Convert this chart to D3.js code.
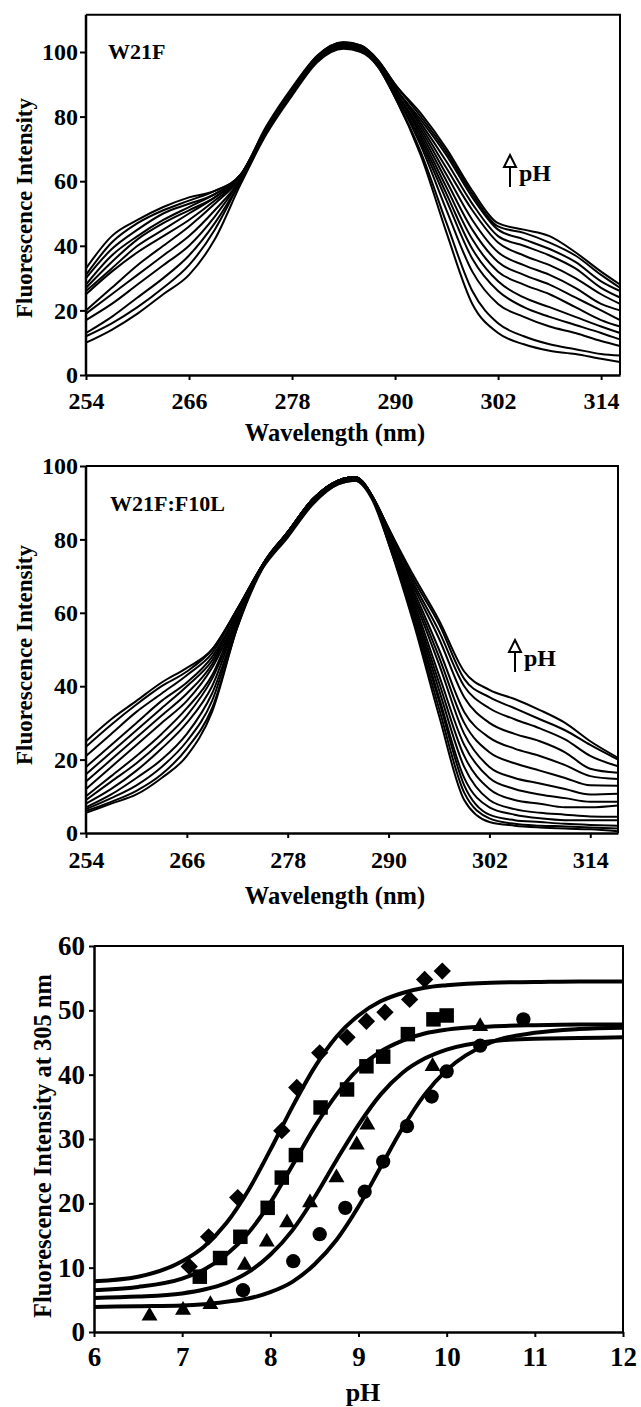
<!DOCTYPE html>
<html>
<head>
<meta charset="utf-8">
<script src="https://cdn.jsdelivr.net/npm/d3@7"></script>
<style>
  body { margin: 0; background: #fff; }
  svg text { font-family: "Liberation Serif", "Times New Roman", serif; font-weight: bold; fill: #000; }
</style>
</head>
<body>
<svg id="fig" width="641" height="1407"></svg>
<script>
// ---- panel A: W21F emission spectra (one row per pH) ----
const w21fWavelengths = [254, 257, 260, 263, 266, 269, 272, 275, 278, 281, 284, 286, 288, 290, 293, 296, 299, 302, 305, 308, 311, 314, 316.2];
const w21fSpectra = [
  [33, 43, 48, 52, 55, 57, 62, 77, 89, 99, 103, 102, 97.5, 90, 81, 70, 57, 47, 45, 43, 38, 32, 28],
  [31, 41, 47, 51, 54, 57, 62, 76.5, 88.5, 99, 103, 102, 97.5, 90, 80, 69, 56, 46, 44, 41, 37, 31, 27],
  [30, 39, 45, 50, 53, 56, 62, 76.5, 88.5, 98.5, 102.5, 101.5, 97, 89, 79, 68, 55, 45, 42, 39, 35, 29, 26],
  [28, 37, 43, 48, 52, 56, 61.5, 76, 88, 98.5, 102.5, 101.5, 97, 89, 78, 66, 53, 43, 40, 37, 33, 27, 24],
  [27, 35, 42, 47, 51, 55, 61.5, 76, 88, 98.5, 102.5, 101.5, 97, 89, 77, 64, 51, 41, 37, 34, 30, 25, 22],
  [26, 33, 40, 45, 50, 55, 61.5, 76, 88, 98, 102, 101, 96.5, 88, 76, 62, 48, 38, 34, 31, 27, 22, 20],
  [25, 32, 38, 43, 48, 54, 61, 75.5, 87.5, 98, 102, 101, 96.5, 88, 75, 60, 45, 35, 31, 28, 24, 20, 17],
  [20, 27, 34, 40, 46, 53, 61, 75.5, 87.5, 98, 102, 101, 96.5, 88, 74, 58, 42, 32, 28, 25, 21, 17, 15],
  [19, 25, 31, 37, 43, 51, 60.5, 75.5, 87.5, 98, 102, 101, 96, 87, 73, 56, 39, 29, 24, 21, 18, 15, 13],
  [17, 22, 28, 34, 40, 49, 60.5, 75, 87, 97.5, 101.5, 100.5, 96, 87, 72, 54, 36, 26, 21, 18, 15.5, 13, 11],
  [13, 18, 24, 30, 37, 47, 60, 75, 87, 97.5, 101.5, 100.5, 96, 87, 71, 51, 32, 22, 18, 15, 13, 10.5, 9],
  [12, 16, 21, 27, 34, 45, 60, 75, 87, 97.5, 101.5, 100.5, 95.5, 86, 69, 47, 26, 16, 12, 9.5, 8, 6.5, 6],
  [10, 14, 19, 25, 31, 42, 59, 74.5, 86.5, 97, 101, 100, 95.5, 86, 68, 44, 22, 13, 9.5, 7.5, 6.5, 5, 4]
];

// ---- panel B: W21F:F10L emission spectra ----
const f10lWavelengths = [254, 257, 260, 263, 266, 269, 272, 275, 278, 281, 284, 286, 288, 290, 293, 296, 299, 302, 305, 308, 311, 314, 317.3];
const f10lSpectra = [
  [25, 31, 36, 41, 45, 50, 61, 73, 82, 91, 96, 97, 92, 83, 70, 58, 44, 39, 36.5, 33.5, 30, 25, 20.5],
  [23.5, 29.5, 35, 40, 44, 50, 61, 73, 82, 91, 96, 97, 92, 83, 69, 57, 42, 37, 34, 31, 28, 24, 20],
  [21, 27, 33, 38, 43, 49, 61, 73, 82, 91, 96, 97, 92, 83, 68, 55, 40, 34, 31, 28.5, 25.5, 21, 18.2],
  [18, 24, 30, 36, 41, 48, 60, 73, 82, 91, 96, 97, 92, 82, 67, 53, 37, 30, 27, 25, 22, 17.5, 16.4],
  [16, 22, 28, 34, 40, 47, 60, 72.5, 81.5, 90.5, 95.5, 96.5, 91.5, 82, 66, 50, 33, 26, 23, 21, 18.5, 15.5, 14.7],
  [14, 20, 26, 32, 38, 46, 60, 73, 82, 91, 96, 97, 92, 82, 65, 48, 30, 22, 19, 17, 15, 13, 12.9],
  [12, 18, 24, 30, 36, 45, 59, 73, 82, 91, 96, 97, 92, 81, 64, 46, 27, 18, 15, 13.5, 12, 10.5, 10.7],
  [10, 15.5, 21, 27, 34, 43, 59, 72, 80.5, 89.5, 95, 96, 91.5, 81, 63, 43, 24, 15, 12, 10.5, 9.5, 8.5, 8.5],
  [9, 14, 19, 25, 32, 42, 58, 73, 82, 91, 96, 97, 92, 81, 62, 41, 21, 12, 9, 8, 7, 7, 7.5],
  [8, 12, 17, 23, 30, 40, 58, 73, 82, 91, 96, 97, 92, 80, 61, 39, 18, 9, 6.5, 5.5, 5, 4.5, 4.4],
  [7, 10.5, 15, 20, 27, 38, 57, 72.5, 81.5, 90.5, 95.5, 96.5, 91.5, 80, 60, 37, 15, 7, 5, 4, 3.5, 3.5, 3.5],
  [6.5, 9.5, 13, 18, 25, 36, 57, 73, 82, 91, 96, 97, 92, 80, 59, 36, 13, 5, 3.5, 3, 2.5, 2.2, 2],
  [6, 8.5, 11.5, 16, 23, 34, 56, 72, 81, 90, 95, 96, 91, 79, 58, 34, 11, 4, 2.5, 2, 1.8, 1.5, 1.2],
  [5.5, 8, 10.5, 15, 21, 33, 56, 73, 82, 91, 96, 97, 92, 79, 57, 32, 9, 3, 2, 1.5, 1.2, 1, 0.5]
];

const wavelengthTicks = [254, 266, 278, 290, 302, 314];
const spectraTicks = [0, 20, 40, 60, 80, 100];

// ---- panel C: intensity at 305 nm vs pH ----
const diamondPoints = [[7.08, 10.2], [7.3, 14.8], [7.63, 20.9], [8.13, 31.3], [8.3, 38.0], [8.56, 43.4], [8.87, 45.8], [9.09, 48.3], [9.3, 49.7], [9.58, 51.7], [9.75, 54.8], [9.95, 56.1]];
const squarePoints = [[7.2, 8.6], [7.43, 11.5], [7.66, 14.8], [7.97, 19.3], [8.13, 24.0], [8.29, 27.5], [8.57, 34.9], [8.87, 37.7], [9.09, 41.3], [9.28, 42.8], [9.56, 46.3], [9.85, 48.6], [10.0, 49.2]];
const trianglePoints = [[6.63, 2.5], [7.01, 3.4], [7.32, 4.3], [7.71, 10.4], [7.96, 14.0], [8.19, 17.0], [8.45, 20.1], [8.75, 24.0], [8.98, 29.1], [9.1, 32.2], [9.84, 41.3], [10.38, 47.5]];
const circlePoints = [[7.69, 6.5], [8.26, 11.0], [8.56, 15.2], [8.85, 19.3], [9.07, 21.8], [9.28, 26.5], [9.55, 32.0], [9.83, 36.6], [10.0, 40.5], [10.38, 44.5], [10.87, 48.6]];

const fitPH = [6, 6.5, 7, 7.25, 7.5, 7.75, 8, 8.25, 8.5, 8.75, 9, 9.25, 9.5, 9.75, 10, 10.5, 11, 11.5, 12];
const diamondFit = [7.9, 8.6, 11.0, 13.3, 16.9, 22.0, 28.3, 35.0, 41.1, 45.9, 49.2, 51.4, 52.7, 53.5, 53.9, 54.3, 54.4, 54.5, 54.5];
const squareFit = [6.5, 7.0, 8.3, 9.7, 12.0, 15.4, 20.1, 25.9, 31.8, 36.9, 40.9, 43.6, 45.3, 46.4, 47.0, 47.5, 47.7, 47.8, 47.8];
const triangleFit = [5.3, 5.5, 6.0, 6.6, 7.6, 9.3, 12.0, 15.8, 20.9, 26.7, 32.2, 36.9, 40.3, 42.5, 43.9, 45.2, 45.6, 45.7, 45.8];
const circleFit = [3.9, 4.0, 4.1, 4.3, 4.7, 5.2, 6.2, 7.8, 10.5, 14.3, 19.5, 25.6, 31.7, 36.9, 40.7, 45.0, 46.5, 47.1, 47.3];

const phTicks = [6, 7, 8, 9, 10, 11, 12];
const titrationTicks = [0, 10, 20, 30, 40, 50, 60];

const svg = d3.select('#fig');

// black, heavy axis lines and serif tick labels
function styleAxis(g, fontSize) {
  g.select('.domain').attr('stroke', '#000').attr('stroke-width', 2.5);
  g.selectAll('.tick line').attr('stroke', '#000').attr('stroke-width', 2);
  g.selectAll('.tick text').attr('font-size', fontSize);
}

function drawSpectra(cfg) {
  const x = d3.scaleLinear().domain(cfg.xDomain).range([cfg.left, cfg.right]);
  const y = d3.scaleLinear().domain([0, 100]).range([cfg.zeroY, cfg.hundredY]);
  const topY = y(cfg.yMax);
  const g = svg.append('g');

  // frame (top + right side)
  g.append('path')
    .attr('d', `M${cfg.left},${topY}H${cfg.right}V${cfg.zeroY}`)
    .attr('fill', 'none').attr('stroke', '#000').attr('stroke-width', 2);

  const line = d3.line()
    .x((d, i) => x(cfg.wavelengths[i]))
    .y(d => y(d))
    .curve(d3.curveMonotoneX);

  g.selectAll('.spectrum')
    .data(cfg.spectra)
    .join('path')
    .attr('class', 'spectrum')
    .attr('d', line)
    .attr('fill', 'none')
    .attr('stroke', '#000')
    .attr('stroke-width', 2);

  g.append('g')
    .attr('transform', `translate(0,${cfg.zeroY})`)
    .call(d3.axisBottom(x).tickValues(wavelengthTicks).tickSize(5).tickSizeOuter(0).tickPadding(cfg.xPad))
    .call(a => styleAxis(a, 24));

  const yAxis = g.append('g')
    .attr('transform', `translate(${cfg.left},0)`)
    .call(d3.axisLeft(y).tickValues(spectraTicks).tickSize(6).tickSizeOuter(0).tickPadding(2))
    .call(a => styleAxis(a, 24));
  yAxis.select('.domain').attr('d', `M0,${cfg.zeroY}V${topY}`);

  g.append('text')
    .attr('transform', `translate(${cfg.yTitleX},${cfg.yTitleY}) rotate(-90)`)
    .attr('text-anchor', 'middle')
    .attr('font-size', 23)
    .text('Fluorescence Intensity');

  g.append('text')
    .attr('x', 335).attr('y', cfg.xTitleY)
    .attr('text-anchor', 'middle')
    .attr('font-size', 24.5)
    .text('Wavelength (nm)');

  g.append('text')
    .attr('x', cfg.labelX).attr('y', cfg.labelY)
    .attr('font-size', 22)
    .text(cfg.label);

  // hollow arrow + "pH"
  const ax = cfg.arrowX, ay = cfg.arrowY;
  g.append('path')
    .attr('d', `M${ax},${ay}L${ax + 6},${ay + 12}H${ax - 6}Z`)
    .attr('fill', '#fff').attr('stroke', '#000').attr('stroke-width', 2);
  g.append('line')
    .attr('x1', ax).attr('x2', ax).attr('y1', ay + 12).attr('y2', ay + 32)
    .attr('stroke', '#000').attr('stroke-width', 2);
  g.append('text')
    .attr('x', ax + 9).attr('y', ay + 26)
    .attr('font-size', 24)
    .text('pH');
}

drawSpectra({
  wavelengths: w21fWavelengths, spectra: w21fSpectra,
  xDomain: [254, 316.2], left: 86, right: 620,
  zeroY: 375, hundredY: 52, yMax: 111.5, xPad: 12,
  yTitleX: 32, yTitleY: 208, xTitleY: 441,
  label: 'W21F', labelX: 108, labelY: 59,
  arrowX: 510, arrowY: 155
});

drawSpectra({
  wavelengths: f10lWavelengths, spectra: f10lSpectra,
  xDomain: [254, 317.3], left: 86, right: 618,
  zeroY: 833, hundredY: 466, yMax: 100, xPad: 13,
  yTitleX: 32, yTitleY: 655, xTitleY: 904,
  label: 'W21F:F10L', labelX: 110, labelY: 511,
  arrowX: 515, arrowY: 640
});

// ---- titration panel ----
(function drawTitration() {
  const left = 94, right = 623, bottom = 1332, top = 946;
  const x = d3.scaleLinear().domain([6, 12]).range([left, right]);
  const y = d3.scaleLinear().domain([0, 60]).range([bottom, top]);
  const g = svg.append('g');

  g.append('path')
    .attr('d', `M${left},${top}H${right}V${bottom}`)
    .attr('fill', 'none').attr('stroke', '#000').attr('stroke-width', 2);

  const fitLine = d3.line()
    .x((d, i) => x(fitPH[i]))
    .y(d => y(d))
    .curve(d3.curveMonotoneX);

  g.selectAll('.fit')
    .data([diamondFit, squareFit, triangleFit, circleFit])
    .join('path')
    .attr('class', 'fit')
    .attr('d', fitLine)
    .attr('fill', 'none')
    .attr('stroke', '#000')
    .attr('stroke-width', 4);

  const series = [
    {points: diamondPoints, type: d3.symbolSquare, size: 150, rotate: 45},
    {points: squarePoints, type: d3.symbolSquare, size: 210, rotate: 0},
    {points: trianglePoints, type: d3.symbolTriangle, size: 110, rotate: 0},
    {points: circlePoints, type: d3.symbolCircle, size: 160, rotate: 0}
  ];
  series.forEach(s => {
    g.append('g').selectAll('path')
      .data(s.points)
      .join('path')
      .attr('d', d3.symbol().type(s.type).size(s.size))
      .attr('transform', d => `translate(${x(d[0])},${y(d[1])}) rotate(${s.rotate})`)
      .attr('fill', '#000');
  });

  g.append('g')
    .attr('transform', `translate(0,${bottom})`)
    .call(d3.axisBottom(x).tickValues(phTicks).tickFormat(d3.format('d')).tickSize(5).tickSizeOuter(0).tickPadding(10))
    .call(a => styleAxis(a, 27));

  g.append('g')
    .attr('transform', `translate(${left},0)`)
    .call(d3.axisLeft(y).tickValues(titrationTicks).tickSize(5).tickSizeOuter(0).tickPadding(4))
    .call(a => styleAxis(a, 27));

  g.append('text')
    .attr('transform', `translate(51,1146) rotate(-90)`)
    .attr('text-anchor', 'middle')
    .attr('font-size', 24.5)
    .text('Fluorescence Intensity at 305 nm');

  g.append('text')
    .attr('x', 363).attr('y', 1401)
    .attr('text-anchor', 'middle')
    .attr('font-size', 26)
    .text('pH');
})();
</script>
</body>
</html>
